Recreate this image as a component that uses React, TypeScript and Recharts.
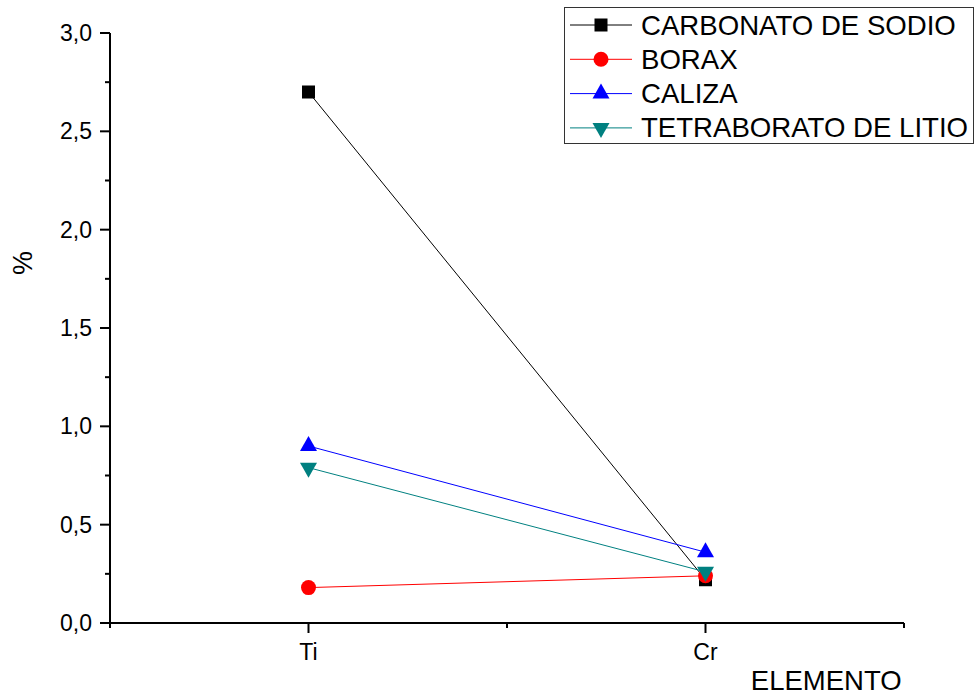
import React from 'react';
import { LineChart, Line, XAxis, YAxis, Legend } from 'recharts';

// ---- data ----
const categories = ['Ti', 'Cr'];
const categoryPositions = [1, 2];
const carbonatoDeSodio = [2.7, 0.22];
const borax = [0.18, 0.24];
const caliza = [0.9, 0.36];
const tetraboratoDeLitio = [0.79, 0.26];

const seriesNames = ['CARBONATO DE SODIO', 'BORAX', 'CALIZA', 'TETRABORATO DE LITIO'];
const seriesKeys = ['carbonato', 'borax', 'caliza', 'tetraborato'];
const seriesColors = ['#000000', '#ff0000', '#0000ff', '#008080'];
const seriesShapes = ['square', 'circle', 'triangle', 'down'];

const yTicks = [0, 0.25, 0.5, 0.75, 1, 1.25, 1.5, 1.75, 2, 2.25, 2.5, 2.75, 3];
const xTicks = [0.5, 1, 1.5, 2, 2.5];
const yTitle = '%';
const xTitle = 'ELEMENTO';

const chartData = categories.map((c, i) => ({
  x: categoryPositions[i],
  name: c,
  carbonato: carbonatoDeSodio[i],
  borax: borax[i],
  caliza: caliza[i],
  tetraborato: tetraboratoDeLitio[i],
}));

const FONT = '"Liberation Sans", Arial, Helvetica, sans-serif';

function Marker({ shape, cx, cy, color }: { shape: string; cx: number; cy: number; color: string }) {
  if (cx == null || cy == null) return null;
  switch (shape) {
    case 'square':
      return <rect x={cx - 6.5} y={cy - 6.5} width={13} height={13} fill={color} />;
    case 'circle':
      return <circle cx={cx} cy={cy} r={7.5} fill={color} />;
    case 'triangle':
      return <polygon points={`${cx},${cy - 10} ${cx + 8.5},${cy + 5} ${cx - 8.5},${cy + 5}`} fill={color} />;
    case 'down':
      return <polygon points={`${cx - 8.5},${cy - 5} ${cx + 8.5},${cy - 5} ${cx},${cy + 10}`} fill={color} />;
    default:
      return null;
  }
}

const YTick = (props: any) => {
  const { x, y, payload } = props;
  const v = payload.value as number;
  const major = Math.abs(v * 2 - Math.round(v * 2)) < 1e-6;
  return (
    <g>
      <line x1={x - (major ? 10 : 5)} x2={x} y1={y} y2={y} stroke="#000" strokeWidth={2} />
      {major && (
        <text x={x - 18} y={y} textAnchor="end" dominantBaseline="central" fontSize={23} fontFamily={FONT} fill="#000">
          {v.toFixed(1).replace('.', ',')}
        </text>
      )}
    </g>
  );
};

const XTick = (props: any) => {
  const { x, y, payload } = props;
  const v = payload.value as number;
  const idx = categoryPositions.indexOf(v);
  const major = idx >= 0;
  return (
    <g>
      <line x1={x} x2={x} y1={y} y2={y + (major ? 10 : 5)} stroke="#000" strokeWidth={2} />
      {major && (
        <text x={x} y={y + 29} textAnchor="middle" dominantBaseline="central" fontSize={23} fontFamily={FONT} fill="#000">
          {categories[idx]}
        </text>
      )}
    </g>
  );
};

const YTitle = (props: any) => {
  const vb = props.viewBox || {};
  const cx = (vb.x || 0) + 23;
  const cy = (vb.y || 0) + vb.height * 0.39;
  return (
    <text x={cx} y={cy} transform={`rotate(-90 ${cx} ${cy})`} textAnchor="middle" dominantBaseline="central" fontSize={27} fontFamily={FONT} fill="#000">
      {yTitle}
    </text>
  );
};

const XTitle = (props: any) => {
  const vb = props.viewBox || {};
  const cx = (vb.x || 0) + vb.width * 0.902;
  const cy = (vb.y || 0) + 57;
  return (
    <text x={cx} y={cy} textAnchor="middle" dominantBaseline="central" fontSize={27.5} fontFamily={FONT} fill="#000">
      {xTitle}
    </text>
  );
};

const LegendBox = () => (
  <div style={{ width: 410, height: 137, border: '1.5px solid #333', boxSizing: 'border-box', background: '#fff' }}>
    <svg width={407} height={134} style={{ display: 'block' }}>
      {seriesNames.map((n, i) => {
        const cy = 17 + i * 34.3;
        return (
          <g key={n}>
            <line x1={5} x2={67} y1={cy} y2={cy} stroke={seriesColors[i]} strokeWidth={1} />
            <Marker shape={seriesShapes[i]} cx={36} cy={cy} color={seriesColors[i]} />
            <text x={76} y={cy} dominantBaseline="central" fontSize={27.6} fontFamily={FONT} fill="#000">
              {n}
            </text>
          </g>
        );
      })}
    </svg>
  </div>
);

export default function App() {
  return (
    <div style={{ position: 'absolute', left: 0, top: 0, background: '#fff' }}>
      <LineChart width={976} height={693} data={chartData} margin={{ top: 33, right: 72, bottom: 0, left: 0 }}>
        <XAxis
          type="number"
          dataKey="x"
          domain={[0.5, 2.5]}
          ticks={xTicks}
          interval={0}
          height={70}
          tickSize={0}
          tickMargin={0}
          tickLine={false}
          axisLine={{ stroke: '#000', strokeWidth: 2 }}
          tick={<XTick />}
          label={<XTitle />}
        />
        <YAxis
          type="number"
          domain={[0, 3]}
          ticks={yTicks}
          interval={0}
          width={110}
          tickSize={0}
          tickMargin={0}
          tickLine={false}
          axisLine={{ stroke: '#000', strokeWidth: 2 }}
          tick={<YTick />}
          label={<YTitle />}
        />
        <Legend
          layout="vertical"
          align="center"
          verticalAlign="middle"
          content={() => <LegendBox />}
          wrapperStyle={{ left: 564, top: 7, width: 410, height: 137, right: 'auto', bottom: 'auto' }}
        />
        {seriesKeys.map((k, i) => (
          <Line
            key={k}
            dataKey={k}
            name={seriesNames[i]}
            stroke={seriesColors[i]}
            strokeWidth={1}
            isAnimationActive={false}
            dot={(p: any) => <Marker key={`${k}-${p.index}`} shape={seriesShapes[i]} cx={p.cx} cy={p.cy} color={seriesColors[i]} />}
            activeDot={false}
          />
        ))}
      </LineChart>
    </div>
  );
}
